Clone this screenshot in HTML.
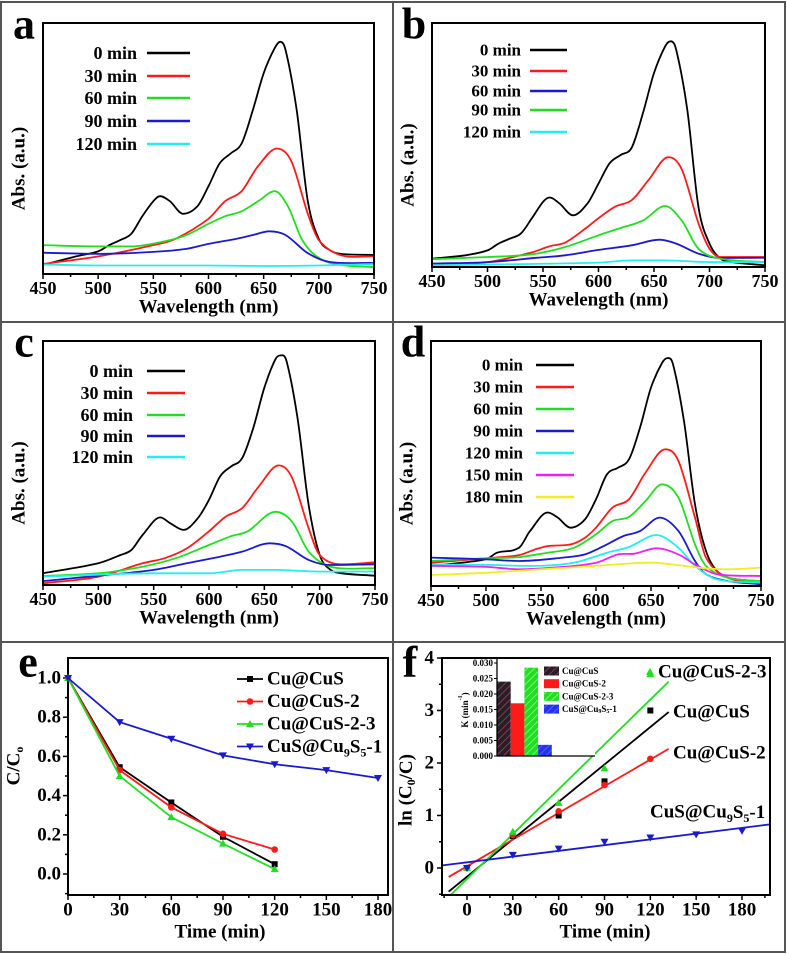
<!DOCTYPE html>
<html><head><meta charset="utf-8">
<style>
html,body{margin:0;padding:0;background:#fff;}
svg{display:block;font-family:"Liberation Serif",serif;font-weight:bold;}
</style></head>
<body>
<svg id="fig" width="787" height="954" viewBox="0 0 787 954" xmlns="http://www.w3.org/2000/svg">
<defs>
<pattern id="hatchK" patternUnits="userSpaceOnUse" width="5" height="5" patternTransform="rotate(45)"><rect width="5" height="5" fill="#222"/><line x1="0" y1="0" x2="0" y2="5" stroke="#c0307a" stroke-width="1.5"/></pattern>
<pattern id="hatchG" patternUnits="userSpaceOnUse" width="5" height="5" patternTransform="rotate(45)"><rect width="5" height="5" fill="#22dd22"/><line x1="0" y1="0" x2="0" y2="5" stroke="#8f8" stroke-width="1.5"/></pattern>
<pattern id="hatchB" patternUnits="userSpaceOnUse" width="5" height="5" patternTransform="rotate(45)"><rect width="5" height="5" fill="#2233ee"/><line x1="0" y1="0" x2="0" y2="5" stroke="#66f" stroke-width="1.5"/></pattern>
<clipPath id="clipF"><rect x="442" y="658" width="328" height="237"/></clipPath>
</defs>
<g id="frames">
<rect x="1" y="2" width="392" height="320" fill="none" stroke="#555" stroke-width="2"/>
<rect x="393" y="2" width="392" height="320" fill="none" stroke="#555" stroke-width="2"/>
<rect x="1" y="322" width="392" height="320" fill="none" stroke="#555" stroke-width="2"/>
<rect x="393" y="322" width="392" height="320" fill="none" stroke="#555" stroke-width="2"/>
<rect x="1" y="642" width="392" height="310" fill="none" stroke="#555" stroke-width="2"/>
<rect x="393" y="642" width="392" height="310" fill="none" stroke="#555" stroke-width="2"/>
</g>
</svg>
<script>
// ---------- spectra data: [wavelength, absorbance(normalized)] ----------
const aBlack=[[450,0.036],[480,0.07],[500,0.09],[510,0.115],[520,0.135],[530,0.16],[540,0.23],[550,0.29],[556,0.31],[565,0.29],[577,0.24],[590,0.27],[600,0.35],[610,0.44],[620,0.48],[630,0.52],[640,0.65],[650,0.80],[660,0.90],[665,0.925],[670,0.89],[680,0.65],[690,0.29],[700,0.14],[710,0.095],[720,0.08],[750,0.076]];
const aRed=[[450,0.04],[500,0.07],[550,0.115],[570,0.14],[600,0.22],[615,0.29],[630,0.33],[645,0.43],[662,0.50],[675,0.45],[690,0.24],[700,0.135],[720,0.075],[750,0.07]];
const aGreen=[[450,0.115],[500,0.11],[530,0.11],[560,0.13],[580,0.155],[600,0.2],[615,0.23],[630,0.25],[645,0.29],[660,0.33],[672,0.27],[685,0.135],[700,0.064],[720,0.036],[750,0.028]];
const aBlue=[[450,0.085],[500,0.08],[550,0.088],[580,0.10],[600,0.12],[625,0.14],[640,0.155],[655,0.17],[670,0.155],[690,0.083],[710,0.048],[750,0.044]];
const aCyan=[[450,0.038],[500,0.034],[550,0.034],[600,0.034],[650,0.032],[700,0.034],[750,0.04]];

const bBlack=[[450,0.034],[480,0.048],[500,0.068],[510,0.096],[520,0.116],[530,0.137],[540,0.2],[550,0.267],[556,0.285],[565,0.26],[577,0.212],[590,0.26],[600,0.342],[610,0.425],[620,0.459],[630,0.49],[640,0.63],[650,0.795],[660,0.904],[665,0.925],[670,0.89],[680,0.644],[690,0.247],[700,0.096],[710,0.034],[720,0.02],[750,0.007]];
const bRed=[[450,0.007],[500,0.02],[540,0.06],[556,0.085],[570,0.1],[590,0.164],[600,0.2],[615,0.247],[630,0.274],[645,0.356],[663,0.45],[675,0.4],[690,0.18],[700,0.075],[710,0.041],[750,0.041]];
const bBlue=[[450,0.014],[500,0.02],[545,0.038],[570,0.048],[600,0.07],[630,0.089],[655,0.112],[670,0.096],[690,0.055],[710,0.037],[750,0.038]];
const bGreen=[[450,0.032],[500,0.041],[540,0.052],[570,0.082],[600,0.13],[620,0.16],[640,0.19],[660,0.25],[675,0.19],[690,0.075],[710,0.034],[750,0.02]];
const bCyan=[[450,0.007],[500,0.01],[600,0.018],[630,0.027],[660,0.027],[700,0.02],[750,0.02]];

const cBlack=[[450,0.048],[500,0.089],[520,0.123],[530,0.144],[540,0.205],[556,0.277],[565,0.253],[577,0.226],[590,0.274],[600,0.349],[610,0.445],[620,0.486],[630,0.52],[640,0.644],[650,0.808],[660,0.925],[665,0.941],[670,0.918],[680,0.685],[690,0.329],[700,0.123],[710,0.062],[720,0.048],[750,0.038]];
const cRed=[[450,0.007],[500,0.034],[540,0.089],[560,0.11],[580,0.15],[600,0.22],[615,0.28],[630,0.315],[645,0.404],[663,0.49],[675,0.44],[690,0.233],[700,0.123],[720,0.085],[750,0.093]];
const cGreen=[[450,0.037],[500,0.048],[540,0.075],[570,0.11],[600,0.164],[620,0.2],[635,0.22],[660,0.3],[675,0.26],[690,0.137],[710,0.075],[750,0.068]];
const cBlue=[[450,0.016],[500,0.038],[550,0.062],[580,0.089],[610,0.116],[630,0.137],[655,0.171],[670,0.158],[690,0.103],[710,0.082],[750,0.085]];
const cCyan=[[450,0.034],[550,0.048],[600,0.048],[630,0.062],[660,0.062],[700,0.055],[750,0.055]];

const dBlack=[[450,0.082],[500,0.109],[510,0.136],[530,0.156],[540,0.224],[556,0.3],[565,0.28],[577,0.238],[590,0.272],[600,0.354],[610,0.456],[620,0.483],[630,0.517],[640,0.646],[650,0.81],[660,0.91],[665,0.93],[670,0.905],[680,0.673],[690,0.333],[700,0.143],[710,0.061],[720,0.034],[750,0.018]];
const dRed=[[450,0.095],[500,0.113],[530,0.126],[545,0.15],[556,0.163],[577,0.17],[590,0.197],[600,0.238],[615,0.32],[630,0.354],[645,0.463],[663,0.558],[675,0.51],[690,0.279],[700,0.116],[720,0.034],[750,0.014]];
const dGreen=[[450,0.102],[500,0.113],[530,0.118],[556,0.136],[580,0.156],[600,0.211],[615,0.265],[630,0.282],[645,0.347],[660,0.415],[675,0.36],[690,0.17],[700,0.082],[720,0.034],[750,0.02]];
const dBlue=[[450,0.116],[500,0.109],[530,0.102],[570,0.116],[590,0.129],[610,0.17],[625,0.204],[640,0.224],[658,0.279],[675,0.224],[690,0.102],[700,0.048],[720,0.02],[750,0.007]];
const dCyan=[[450,0.088],[500,0.086],[540,0.082],[580,0.095],[610,0.136],[630,0.159],[655,0.208],[675,0.156],[690,0.082],[710,0.027],[750,0.014]];
const dMagenta=[[450,0.082],[500,0.078],[530,0.068],[570,0.078],[600,0.095],[620,0.129],[635,0.132],[655,0.154],[675,0.129],[690,0.088],[710,0.048],[750,0.041]];
const dYellow=[[450,0.045],[500,0.054],[550,0.068],[600,0.082],[650,0.095],[680,0.082],[700,0.072],[720,0.068],[750,0.075]];

const wlTicks=[450,500,550,600,650,700,750];

// ---------- panel e data ----------
const timeE=[0,30,60,90,120];
const timeLong=[0,30,60,90,120,150,180];
const eCuCuS=[1,0.545,0.365,0.19,0.05];
const eCuCuS2=[1,0.53,0.34,0.205,0.125];
const eCuCuS23=[1,0.5,0.29,0.155,0.025];
const eCuS9=[1,0.775,0.69,0.605,0.56,0.53,0.49];
const eYTicks=[0,0.2,0.4,0.6,0.8,1.0];
const timeTicks=[0,30,60,90,120,150,180];

// ---------- panel f data ----------
const fCuCuS=[0,0.61,1.0,1.65,3.0];
const fCuCuS2=[0,0.63,1.08,1.58,2.08];
const fCuCuS23=[0,0.69,1.24,1.9,3.69];
const fCuS9=[0,0.25,0.37,0.5,0.58,0.64,0.71];
const fSlopes=[0.02375,0.01694,0.02847,0.003645];
const fIntercepts=[-0.165,0.033,-0.208,0.108];
const fYTicks=[0,1,2,3,4];
const kNames=["Cu@CuS","Cu@CuS-2","Cu@CuS-2-3","CuS@Cu9S5-1"];
const kValues=[0.024,0.017,0.0285,0.0036];
const kTicks=[0,0.005,0.010,0.015,0.020,0.025,0.030];

const NS="http://www.w3.org/2000/svg";
const svg=document.getElementById('fig');
function mk(tag,attrs,parent){const e=document.createElementNS(NS,tag);for(const k in attrs)e.setAttribute(k,attrs[k]);(parent||svg).appendChild(e);return e;}
function txt(s,x,y,size,anchor,parent){const t=mk('text',{x:x,y:y,'font-size':size,'text-anchor':anchor||'middle','dominant-baseline':'central'},parent);t.textContent=s;return t;}
// cubic Hermite spline with x-aware tangents (smooth for uneven spacing)
function smooth(pts){
 const n=pts.length,m=[];
 for(let i=0;i<n;i++){
  if(i===0)m.push((pts[1][1]-pts[0][1])/(pts[1][0]-pts[0][0]));
  else if(i===n-1)m.push((pts[n-1][1]-pts[n-2][1])/(pts[n-1][0]-pts[n-2][0]));
  else{const d0=(pts[i][1]-pts[i-1][1])/(pts[i][0]-pts[i-1][0]),d1=(pts[i+1][1]-pts[i][1])/(pts[i+1][0]-pts[i][0]);
   m.push(d0*d1<=0?0:(pts[i+1][1]-pts[i-1][1])/(pts[i+1][0]-pts[i-1][0]));}
 }
 let d='M'+pts[0][0].toFixed(1)+','+pts[0][1].toFixed(1);
 for(let i=0;i<n-1;i++){const h=(pts[i+1][0]-pts[i][0])/3;
  d+='C'+(pts[i][0]+h).toFixed(1)+','+(pts[i][1]+m[i]*h).toFixed(1)+' '+(pts[i+1][0]-h).toFixed(1)+','+(pts[i+1][1]-m[i+1]*h).toFixed(1)+' '+pts[i+1][0].toFixed(1)+','+pts[i+1][1].toFixed(1);}
 return d;}

function spectra(P){
 const g=mk('g',{});
 
 
 const xs=w=>P.x0+(w-450)/300*(P.x1-P.x0);
 const ys=v=>P.y1-v*(P.y1-P.y0);
 P.series.forEach(s=>{
  const p=mk('path',{d:smooth(s.data.map(q=>[xs(q[0]),ys(q[1])])),fill:'none',stroke:s.color,'stroke-width':1.8},g);
  
  
 });
 const box=mk('rect',{x:P.x0,y:P.y0,width:P.x1-P.x0,height:P.y1-P.y0,fill:'none',stroke:'#000','stroke-width':2},g);
 
 
 for(let w=450;w<=750;w+=25){const X=xs(w);mk('line',{x1:X,x2:X,y1:P.y1,y2:P.y1+(w%50?3:5),stroke:'#000','stroke-width':1.5},g);}
 wlTicks.forEach(w=>{const t=txt(String(w),xs(w),P.y1+14,18,'middle',g);
  
  });
 const xt=txt('Wavelength (nm)',(P.x0+P.x1)/2,P.y1+33,19,'middle',g);
 
 
 const yt=txt('Abs. (a.u.)',0,0,19,'middle',g);yt.setAttribute('transform','translate('+(P.x0-24)+','+((P.y0+P.y1)/2+20)+') rotate(-90)');
 
 
 const lt=txt(P.letter,P.lx,P.ly,44,'middle',g);
 
 
 P.series.forEach((s,i)=>{const y=P.legY[i];
  const t=txt(s.label,P.legTx,y,P.legFs,'end',g);
  
  
  mk('line',{x1:P.legL0,x2:P.legL1,y1:y,y2:y,stroke:s.color,'stroke-width':2.5},g);});
}
const K='#000',R='#ff1a1a',G='#22dd22',B='#1a1acc',C='#22eeee',M='#ee22ee',Y='#eeee22';
spectra({letter:'a',x0:43,x1:374,y0:23,y1:274,lx:24,ly:24,legTx:137,legL0:147,legL1:190,legFs:18,legY:[53,76,98,121,144],
 series:[{label:'0 min',color:K,data:aBlack},{label:'30 min',color:R,data:aRed},{label:'60 min',color:G,data:aGreen},{label:'90 min',color:B,data:aBlue},{label:'120 min',color:C,data:aCyan}]});
spectra({letter:'b',x0:432,x1:765,y0:23,y1:267,lx:414,ly:24,legTx:521,legL0:530,legL1:567,legFs:17,legY:[50,71,91,110,132],
 series:[{label:'0 min',color:K,data:bBlack},{label:'30 min',color:R,data:bRed},{label:'60 min',color:B,data:bBlue},{label:'90 min',color:G,data:bGreen},{label:'120 min',color:C,data:bCyan}]});
spectra({letter:'c',x0:43,x1:375,y0:341,y1:585,lx:24,ly:342,legTx:133,legL0:147,legL1:185,legFs:18,legY:[371,393,415,436,457],
 series:[{label:'0 min',color:K,data:cBlack},{label:'30 min',color:R,data:cRed},{label:'60 min',color:G,data:cGreen},{label:'90 min',color:B,data:cBlue},{label:'120 min',color:C,data:cCyan}]});
spectra({letter:'d',x0:431,x1:761,y0:341,y1:586,lx:413,ly:342,legTx:523,legL0:536,legL1:574,legFs:17,legY:[365,387,409,431,453,475,497],
 series:[{label:'0 min',color:K,data:dBlack},{label:'30 min',color:R,data:dRed},{label:'60 min',color:G,data:dGreen},{label:'90 min',color:B,data:dBlue},{label:'120 min',color:C,data:dCyan},{label:'150 min',color:M,data:dMagenta},{label:'180 min',color:Y,data:dYellow}]});

// ---------- panel e ----------
(function(){
 const g=mk('g',{});
 
 
 const x0=68,x1=388,y0=658,y1=895;
 const xs=t=>68+t*(378-68)/180, ys=v=>874-v*(874-678);
 const box=mk('rect',{x:x0,y:y0,width:x1-x0,height:y1-y0,fill:'none',stroke:'#000','stroke-width':2},g);
 
 
 for(let t=0;t<=180;t+=15){const X=xs(t);mk('line',{x1:X,x2:X,y1:y1,y2:y1+(t%30?3:5),stroke:'#000','stroke-width':1.5},g);}
 for(let v=-0.1;v<=1.0001;v+=0.1){const Y=ys(v);mk('line',{x1:x0,x2:x0-(Math.round(v*10)%2?3:5),y1:Y,y2:Y,stroke:'#000','stroke-width':1.5},g);}
 timeTicks.forEach(t=>{const e=txt(String(t),xs(t),y1+15,19,'middle',g);
  
  });
 eYTicks.forEach(v=>{const e=txt(v.toFixed(1),x0-7,ys(v),19,'end',g);
  
  });
 const xt=txt('Time (min)',(x0+x1)/2-8,y1+37,19,'middle',g);
 
 
 const yt=mk('text',{'font-size':19,'text-anchor':'middle','dominant-baseline':'central',transform:'translate(14,766) rotate(-90)'},g);
 yt.innerHTML='C/C<tspan font-size="12" dy="5">o</tspan>';
 
 
 const lt=txt('e',28,662,44,'middle',g);
 
 
 const S=[{n:'Cu@CuS',c:K,t:timeE,v:eCuCuS,m:'sq'},{n:'Cu@CuS-2',c:R,t:timeE,v:eCuCuS2,m:'ci'},{n:'Cu@CuS-2-3',c:G,t:timeE,v:eCuCuS23,m:'tu'},{n:'CuS@Cu9S5-1',c:B,t:timeLong,v:eCuS9,m:'td'}];
 function marker(m,x,y,c,par){
  if(m==='sq')return mk('rect',{x:x-3,y:y-3,width:6,height:6,fill:c},par);
  if(m==='ci')return mk('circle',{cx:x,cy:y,r:3.3,fill:c},par);
  if(m==='tu')return mk('path',{d:`M${x},${y-4}L${x+4},${y+3}L${x-4},${y+3}Z`,fill:c},par);
  return mk('path',{d:`M${x},${y+4}L${x+4},${y-3}L${x-4},${y-3}Z`,fill:c},par);}
 S.forEach((s,i)=>{
  const pts=s.t.map((t,j)=>[xs(t),ys(s.v[j])]);
  const p=mk('polyline',{points:pts.map(q=>q.join(',')).join(' '),fill:'none',stroke:s.c,'stroke-width':1.8},g);
  
  
  pts.forEach(q=>marker(s.m,q[0],q[1],s.c,g));
  const ly=679+i*22.5;
  mk('line',{x1:237,x2:263,y1:ly,y2:ly,stroke:s.c,'stroke-width':1.8},g);
  marker(s.m,250,ly,s.c,g);
  const t=mk('text',{x:267,y:ly,'font-size':19,'dominant-baseline':'central'},g);
  if(s.n==='CuS@Cu9S5-1')t.innerHTML='CuS@Cu<tspan font-size="12" dy="6">9</tspan><tspan dy="-6">S</tspan><tspan font-size="12" dy="6">5</tspan><tspan dy="-6">-1</tspan>';
  else t.textContent=s.n;
  
  
 });
})();

// ---------- panel f ----------
(function(){
 const g=mk('g',{});
 
 
 const x0=442,x1=770,y0=658,y1=895;
 const xs=t=>467+t*(742-467)/180, ys=v=>868-v*(868-658)/4;
 const lines=mk('g',{'clip-path':'url(#clipF)'},g);
 const cols=[K,R,G,B];
 const ends=[[-12,132],[-12,132],[-12,132],[-16,198]];
 cols.forEach((c,i)=>{const a=ends[i][0],b=ends[i][1];
  const l=mk('line',{x1:xs(a),y1:ys(fSlopes[i]*a+fIntercepts[i]),x2:xs(b),y2:ys(fSlopes[i]*b+fIntercepts[i]),stroke:c,'stroke-width':1.8},lines);
  
  });
 const P=[{v:fCuCuS,t:timeE,c:K,m:'sq'},{v:fCuCuS2,t:timeE,c:R,m:'ci'},{v:fCuCuS23,t:timeE,c:G,m:'tu'},{v:fCuS9,t:timeLong,c:B,m:'td'}];
 P.forEach(s=>s.t.forEach((t,j)=>{const x=xs(t),y=ys(s.v[j]);let e;
  if(s.m==='sq')e=mk('rect',{x:x-3,y:y-3,width:6,height:6,fill:s.c},g);
  else if(s.m==='ci')e=mk('circle',{cx:x,cy:y,r:3.3,fill:s.c},g);
  else if(s.m==='tu')e=mk('path',{d:`M${x},${y-4}L${x+4},${y+3}L${x-4},${y+3}Z`,fill:s.c},g);
  else e=mk('path',{d:`M${x},${y+4}L${x+4},${y-3}L${x-4},${y-3}Z`,fill:s.c},g);
  
  }));
 const box=mk('rect',{x:x0,y:y0,width:x1-x0,height:y1-y0,fill:'none',stroke:'#000','stroke-width':2},g);
 
 
 for(let t=-15;t<=195;t+=15){const X=xs(t);mk('line',{x1:X,x2:X,y1:y1,y2:y1+(t%30?3:5),stroke:'#000','stroke-width':1.5},g);}
 for(let v=-0.5;v<=4.001;v+=0.5){const Y=ys(v);mk('line',{x1:x0,x2:x0-(v%1?3:5),y1:Y,y2:Y,stroke:'#000','stroke-width':1.5},g);}
 timeTicks.forEach(t=>{const e=txt(String(t),xs(t),y1+15,19,'middle',g);
  
  });
 fYTicks.forEach(v=>{const e=txt(String(v),x0-8,ys(v),19,'end',g);
  
  });
 const xt=txt('Time (min)',605,y1+37,19,'middle',g);
 
 
 const yt=mk('text',{'font-size':19,'text-anchor':'middle','dominant-baseline':'central',transform:'translate(406,790) rotate(-90)'},g);
 yt.innerHTML='ln (C<tspan font-size="12" dy="5">0</tspan><tspan dy="-5">/C)</tspan>';
 
 
 const lt=txt('f',410,662,44,'middle',g);
 
 
 const labs=[['Cu@CuS-2-3',658,672],['Cu@CuS',673,712],['Cu@CuS-2',673,753]];
 labs.forEach(l=>{const t=mk('text',{x:l[1],y:l[2],'font-size':19,'dominant-baseline':'central'},g);t.textContent=l[0];
  
  });
 mk('path',{d:'M650,668L654,675L646,675Z',fill:G},g);
 const t4=mk('text',{x:650,y:812,'font-size':19,'dominant-baseline':'central'},g);
 t4.innerHTML='CuS@Cu<tspan font-size="12" dy="6">9</tspan><tspan dy="-6">S</tspan><tspan font-size="12" dy="6">5</tspan><tspan dy="-6">-1</tspan>';
 
 
 const ig=mk('g',{},g);
 
 
 const ix0=497,iy0=756,iy1=663;
 const ky=k=>iy0-k*(iy0-iy1)/0.030;
 mk('rect',{x:ix0,y:iy1-4,width:98,height:iy0-iy1+4,fill:'#fff'},ig);
 const fills=['url(#hatchK)','#ff1a1a','url(#hatchG)','url(#hatchB)'];
 kValues.forEach((k,i)=>{const b=mk('rect',{x:ix0+i*13.7,y:ky(k),width:13.7,height:iy0-ky(k),fill:fills[i]},ig);
  
  });
 mk('line',{x1:ix0,x2:ix0,y1:iy1-4,y2:iy0,stroke:'#000','stroke-width':1.3},ig);
 mk('line',{x1:ix0,x2:595,y1:iy0,y2:iy0,stroke:'#000','stroke-width':1.3},ig);
 kTicks.forEach(k=>{mk('line',{x1:ix0,x2:ix0-3,y1:ky(k),y2:ky(k),stroke:'#000','stroke-width':1},ig);
  const t=txt(k.toFixed(3),ix0-4,ky(k),9,'end',ig);
  
  });
 const ky2=mk('text',{'font-size':9,'text-anchor':'middle','dominant-baseline':'central',transform:'translate(465,710) rotate(-90)'},ig);
 ky2.innerHTML='K (min<tspan font-size="6" dy="-4">-1</tspan><tspan dy="4">)</tspan>';
 
 
 const legF=['url(#hatchK)','#ff1a1a','url(#hatchG)','url(#hatchB)'];
 kNames.forEach((n,i)=>{const y=671+i*12.7;
  mk('rect',{x:544,y:y-4.5,width:15,height:9,fill:legF[i]},ig);
  const t=mk('text',{x:562,y:y,'font-size':9,'dominant-baseline':'central'},ig);
  if(i===3)t.innerHTML='CuS@Cu<tspan font-size="6" dy="3">9</tspan><tspan dy="-3">S</tspan><tspan font-size="6" dy="3">5</tspan><tspan dy="-3">-1</tspan>';
  else t.textContent=n;
  
  });
})();
</script>
</body></html>
